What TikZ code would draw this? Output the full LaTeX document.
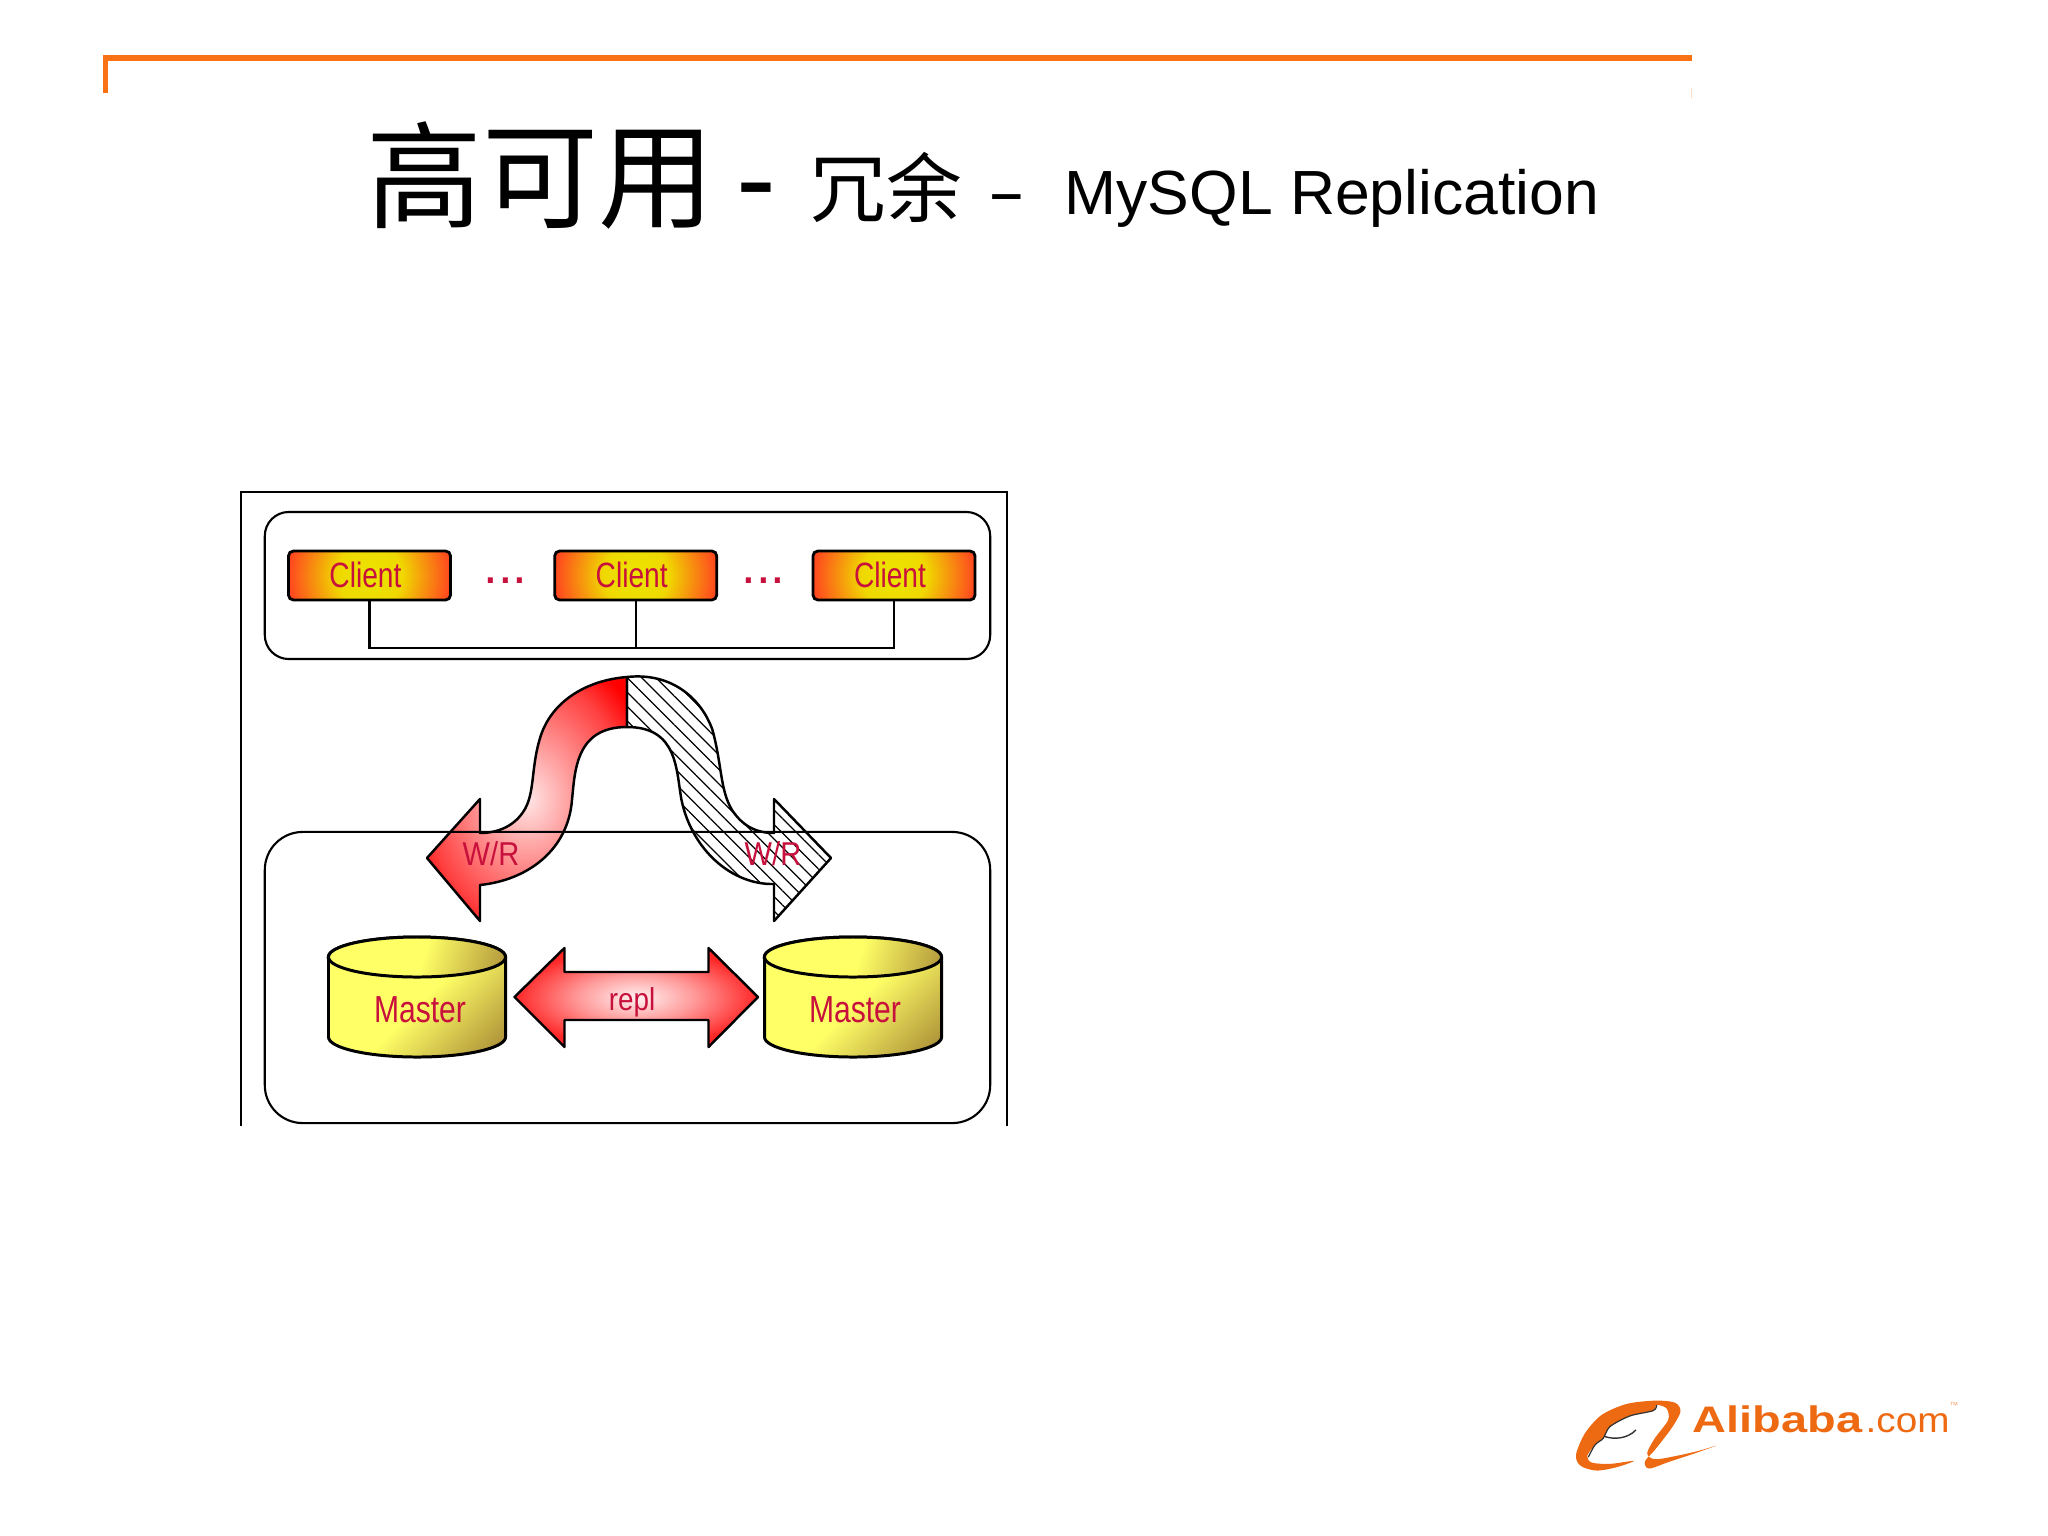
\documentclass[tikz,border=0pt]{standalone}
\usepackage{graphicx}
\usepackage{fontspec}
\setmainfont{Liberation Sans}
\newfontfamily\cjk{Noto Sans CJK SC}
\usepackage{tikz}
\usetikzlibrary{patterns.meta}
\definecolor{barorange}{HTML}{F97316}
\definecolor{labelred}{HTML}{C8103C}
\definecolor{logoorange}{HTML}{EE6A12}
\pgfdeclareverticalshading{cylbody}{100bp}{rgb(0bp)=(.6,.5,.17); rgb(18bp)=(.68,.57,.22); rgb(48bp)=(1,1,.4); rgb(100bp)=(1,1,.4)}
\pgfdeclareradialshading{clientshade}{\pgfpointorigin}{rgb(0bp)=(.92,.9,0); rgb(10bp)=(.94,.85,0); rgb(25bp)=(1,.28,.12); rgb(50bp)=(1,.28,.12)}
\pgfdeclareradialshading{flowshade}{\pgfpointorigin}{rgb(0bp)=(1,.9,.9); rgb(25bp)=(1,.25,.25); rgb(32bp)=(1,0,0); rgb(50bp)=(1,0,0)}
\pgfdeclareradialshading{replshade}{\pgfpointorigin}{rgb(0bp)=(1,.95,.95); rgb(12bp)=(1,.6,.6); rgb(25bp)=(1,.15,.15); rgb(50bp)=(1,.1,.1)}
\newcommand{\narrowtext}[1]{\scalebox{.8}[1]{#1}}

\begin{document}
\begin{tikzpicture}[x=.01cm,y=-.01cm,
  frameline/.style={draw=black, line width=.6pt},
  groupbox/.style={frameline, inner sep=0pt, outer sep=0pt},
  clientbox/.style={draw=black, line width=.8pt, rounded corners=.05cm, inner sep=0pt, outer sep=0pt,
    minimum width=1.62cm, minimum height=.49cm, text=labelred, font=\fontsize{10}{12}\selectfont,
    path picture={\shade[shading=clientshade]
      ([yshift=-16pt]path picture bounding box.south west) rectangle ([yshift=16pt]path picture bounding box.north east);}},
  labeltext/.style={text=labelred, inner sep=0pt, font=\fontsize{10.7}{12}\selectfont},
  dotstext/.style={text=labelred, inner sep=0pt, anchor=base, font=\fontsize{15}{16}\selectfont},
  flowarrow/.style={draw=black, line width=.7pt, line join=round},
  cylinder body/.style={draw=black, line width=.85pt, shading=cylbody, shading angle=45},
  cylinder lid/.style={draw=black, line width=.85pt, shading=cylbody, shading angle=72},
  titletext/.style={inner sep=0pt, anchor=base west, text=black}]
\useasboundingbox (0,0) rectangle (2048,1536);
\fill[white] (0,0) rectangle (2048,1536);

% title bar
\fill[barorange] (103,55) rectangle (1692,61);
\fill[barorange] (103,55) rectangle (108,93);
\fill[barorange!25] (1691,88) rectangle (1692,98);

% title
\node[titletext, font=\fontsize{33}{36}\selectfont\cjk] (titlea) at (366,219) {高可用};
\node[titletext, font=\fontsize{34}{36}\selectfont] (dasha) at (736,219) {-};
\node[titletext, font=\fontsize{21.5}{24}\selectfont\cjk] (titleb) at (810,216) {冗余};
\node[titletext, font=\fontsize{22}{24}\selectfont] (dashb) at (987,213) {\scalebox{1.5}[.8]{-}};
\node[titletext, font=\fontsize{17.75}{20}\selectfont] (titlec) at (1064,214) {MySQL Replication};

% outer frame, open at the bottom
\draw[frameline] (241,1126) -- (241,492) -- (1007,492) -- (1007,1126);

% clients
\node[groupbox, rounded corners=.24cm, minimum width=7.25cm, minimum height=1.47cm] (clientgroup) at (627.5,585.5) {};
\node[clientbox] (clienta) at (369.5,575.5) {\raisebox{.6pt}{\narrowtext{Client}}\kern2.3pt};
\node[clientbox] (clientb) at (635.7,575.5) {\raisebox{.6pt}{\narrowtext{Client}}\kern2.3pt};
\node[clientbox] (clientc) at (894,575.5) {\raisebox{.6pt}{\narrowtext{Client}}\kern2.3pt};
\node[dotstext] (dotsa) at (505.5,583) {...};
\node[dotstext] (dotsb) at (763.5,583) {...};
\coordinate (busa) at (369.5,648);
\coordinate (busb) at (635.7,648);
\coordinate (busc) at (894,648);
\draw[frameline] (clienta.south) -- (busa) -- (busc) -- (clientc.south);
\draw[frameline] (clientb.south) -- (busb);

% write arrows
\draw[flowarrow, shading=flowshade] (627,677)
  .. controls (588,680) and (553,700) .. (541,735)
  .. controls (531,765) and (535,790) .. (525.5,808)
  .. controls (518,822) and (503,833) .. (480,833)
  -- (480,799) -- (427,858) -- (480,921) -- (480,885)
  .. controls (528,880) and (568,850) .. (572,800)
  .. controls (575,770) and (576,727) .. (627,727) -- cycle;
\draw[flowarrow, pattern={Lines[angle=-45,distance=2.9pt,line width=.35pt]}] (627,677)
  .. controls (673,672) and (702,700) .. (712.5,730)
  .. controls (722,765) and (720,790) .. (732,810)
  .. controls (742,825) and (755,833) .. (774,833)
  -- (774,799) -- (831,858) -- (774,921) -- (774,884)
  .. controls (732,885) and (692,850) .. (681.5,800)
  .. controls (676,770) and (678,727) .. (627,727) -- cycle;

% masters
\node[groupbox, rounded corners=.38cm, minimum width=7.25cm, minimum height=2.91cm] (mastergroup) at (627.5,977.5) {};
\draw[cylinder body] (328.5,957) -- (328.5,1037) arc[start angle=180,end angle=360,x radius=.885cm,y radius=.2cm] -- (505.5,957) arc[start angle=0,end angle=180,x radius=.885cm,y radius=.2cm] -- cycle;
\draw[cylinder lid] (417,957) ellipse[x radius=.885cm,y radius=.2cm];
\draw[cylinder body] (764.5,957) -- (764.5,1037) arc[start angle=180,end angle=360,x radius=.885cm,y radius=.2cm] -- (941.5,957) arc[start angle=0,end angle=180,x radius=.885cm,y radius=.2cm] -- cycle;
\draw[cylinder lid] (853,957) ellipse[x radius=.885cm,y radius=.2cm];
\node[labeltext] (mastera) at (420,1010) {\narrowtext{Master}};
\node[labeltext] (masterb) at (855,1010) {\narrowtext{Master}};

% replication arrow
\draw[flowarrow, shading=replshade] (514.5,997) -- (564.5,948) -- (564.5,972) -- (708.5,972) -- (708.5,948) -- (758,997) -- (708.5,1047) -- (708.5,1020) -- (564.5,1020) -- (564.5,1047) -- cycle;
\node[labeltext, anchor=base] (repl) at (632,1010) {\scalebox{.88}[1]{\fontsize{9}{10}\selectfont repl}};

\node[labeltext] (wra) at (491,854) {\scalebox{.88}[1]{\fontsize{9.4}{10}\selectfont W/R}};
\node[labeltext] (wrb) at (773,854) {\scalebox{.88}[1]{\fontsize{9.4}{10}\selectfont W/R}};

% logo
\begin{scope}[shift={(1560,1380)},x=.00333cm,y=-.00333cm]
\fill[logoorange] plot[smooth cycle,tension=.5] coordinates {(470,197) (400,222) (330,245) (268,266) (255,245) (285,210) (335,145) (362,95) (345,68) (285,62) (200,72) (125,105) (75,160) (48,225) (62,258) (110,272) (170,262) (222,243) (150,252) (95,248) (82,228) (105,195) (130,175) (150,140) (210,108) (280,92) (290,75) (320,85) (325,120) (285,175) (262,220) (285,238) (350,228) (420,212)};
\draw[black!80, line width=.35pt] plot[smooth,tension=.5] coordinates {(85,232) (105,195) (130,175) (150,140) (210,108) (280,92) (290,75)};
\draw[black!80, line width=.4pt] (135,170) .. controls (165,180) and (205,175) .. (228,150);
\end{scope}
\node[inner sep=0pt, anchor=base west, text=logoorange, font=\fontsize{10.5}{12}\selectfont\bfseries] (logoname) at (1692,1432) {\scalebox{1.27}[1]{Alibaba}};
\node[inner sep=0pt, anchor=base west, text=logoorange, font=\fontsize{10}{12}\selectfont] (logocom) at (1865,1432) {\scalebox{1.1}[1]{.com}};
\node[inner sep=0pt, anchor=base west, text=logoorange!60, font=\fontsize{2.5}{3}\selectfont] (logotm) at (1949,1408) {™};
\end{tikzpicture}
\end{document}
